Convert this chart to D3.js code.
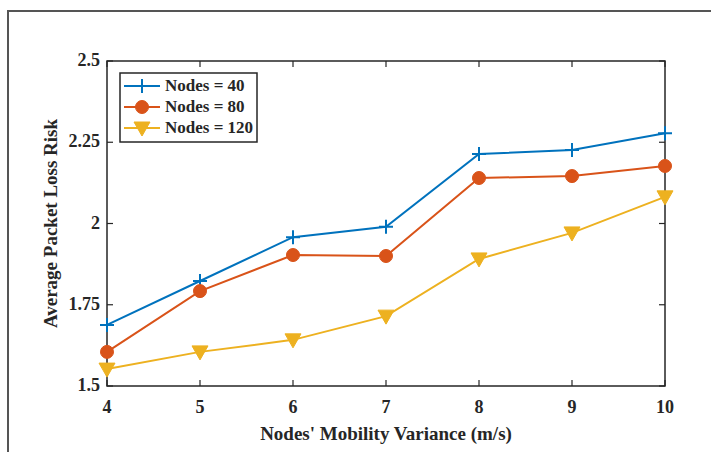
<html>
<head>
<script src="https://d3js.org/d3.v7.min.js"></script>
<style>
  body { margin: 0; background: #fff; }
  text { font-family: "Liberation Serif", "Times New Roman", serif; font-weight: bold; fill: #262626; }
</style>
</head>
<body>
<svg id="chart" width="711" height="452"></svg>
<script>
// Data
var xValues = [4, 5, 6, 7, 8, 9, 10];
var nodes40 = [1.688, 1.823, 1.958, 1.990, 2.214, 2.226, 2.278];
var nodes80 = [1.605, 1.792, 1.903, 1.900, 2.140, 2.146, 2.177];
var nodes120 = [1.552, 1.605, 1.642, 1.715, 1.891, 1.971, 2.082];
var seriesNames = ["Nodes = 40", "Nodes = 80", "Nodes = 120"];
var yTicks = [1.5, 1.75, 2, 2.25, 2.5];
var yTickLabels = ["1.5", "1.75", "2", "2.25", "2.5"];

var colors = ["#0072BD", "#D95319", "#EDB120"];
var markers = ["plus", "circle", "triangle"];
var series = [nodes40, nodes80, nodes120];

var svg = d3.select("#chart");

// outer frame of the figure (cropped on right and bottom)
svg.append("rect")
  .attr("x", 8).attr("y", 11)
  .attr("width", 720).attr("height", 460)
  .attr("fill", "none")
  .attr("stroke", "#555")
  .attr("stroke-width", 2);

var mLeft = 107, mRight = 665, mTop = 61, mBottom = 386;

var x = d3.scaleLinear().domain([4, 10]).range([mLeft, mRight]);
var y = d3.scaleLinear().domain([1.5, 2.5]).range([mBottom, mTop]);

// axes box
svg.append("rect")
  .attr("x", mLeft).attr("y", mTop)
  .attr("width", mRight - mLeft).attr("height", mBottom - mTop)
  .attr("fill", "none")
  .attr("stroke", "#262626")
  .attr("stroke-width", 1.5);

// inward ticks, bottom + top, left + right
var tl = 6;
xValues.forEach(function(v) {
  svg.append("line").attr("x1", x(v)).attr("x2", x(v)).attr("y1", mBottom).attr("y2", mBottom - tl)
    .attr("stroke", "#262626").attr("stroke-width", 1.2);
  svg.append("line").attr("x1", x(v)).attr("x2", x(v)).attr("y1", mTop).attr("y2", mTop + tl)
    .attr("stroke", "#262626").attr("stroke-width", 1.2);
  svg.append("text").attr("x", x(v)).attr("y", 413)
    .attr("text-anchor", "middle").style("font-size", "18px").text(v);
});
yTicks.forEach(function(v, i) {
  svg.append("line").attr("x1", mLeft).attr("x2", mLeft + tl).attr("y1", y(v)).attr("y2", y(v))
    .attr("stroke", "#262626").attr("stroke-width", 1.2);
  svg.append("line").attr("x1", mRight).attr("x2", mRight - tl).attr("y1", y(v)).attr("y2", y(v))
    .attr("stroke", "#262626").attr("stroke-width", 1.2);
  svg.append("text").attr("x", mLeft - 7).attr("y", y(v) + 5)
    .attr("text-anchor", "end").style("font-size", "18px").text(yTickLabels[i]);
});

// axis titles
svg.append("text").attr("x", (mLeft + mRight) / 2).attr("y", 440)
  .attr("text-anchor", "middle").style("font-size", "19px")
  .text("Nodes' Mobility Variance (m/s)");
svg.append("text")
  .attr("transform", "translate(57," + ((mTop + mBottom) / 2) + ") rotate(-90)")
  .attr("text-anchor", "middle").style("font-size", "19px")
  .text("Average Packet Loss Risk");

function drawMarker(g, type, cx, cy, color) {
  if (type == "plus") {
    g.append("path")
      .attr("d", "M" + (cx - 7) + "," + cy + "H" + (cx + 7) + "M" + cx + "," + (cy - 7) + "V" + (cy + 7))
      .attr("stroke", color).attr("stroke-width", 2).attr("fill", "none");
  } else if (type == "circle") {
    g.append("circle").attr("cx", cx).attr("cy", cy).attr("r", 6.5)
      .attr("fill", color).attr("stroke", color);
  } else {
    g.append("path")
      .attr("d", "M" + (cx - 8) + "," + (cy - 6) + "L" + (cx + 8) + "," + (cy - 6) + "L" + cx + "," + (cy + 8) + "Z")
      .attr("fill", color).attr("stroke", color);
  }
}

var line = d3.line()
  .x(function(d, i) { return x(xValues[i]); })
  .y(function(d) { return y(d); });

series.forEach(function(s, k) {
  var g = svg.append("g");
  g.append("path").datum(s)
    .attr("d", line)
    .attr("fill", "none")
    .attr("stroke", colors[k])
    .attr("stroke-width", 2);
  s.forEach(function(d, i) {
    drawMarker(g, markers[k], x(xValues[i]), y(d), colors[k]);
  });
});

// legend
svg.append("rect")
  .attr("x", 120).attr("y", 73).attr("width", 137).attr("height", 69)
  .attr("fill", "#fff").attr("stroke", "#262626").attr("stroke-width", 1.5);
var legY = [86, 107, 128];
seriesNames.forEach(function(name, k) {
  var g = svg.append("g");
  g.append("line").attr("x1", 124).attr("x2", 160).attr("y1", legY[k]).attr("y2", legY[k])
    .attr("stroke", colors[k]).attr("stroke-width", 2);
  drawMarker(g, markers[k], 142, legY[k], colors[k]);
  svg.append("text").attr("x", 165).attr("y", legY[k] + 5)
    .style("font-size", "17px").text(name);
});
</script>
</body>
</html>
